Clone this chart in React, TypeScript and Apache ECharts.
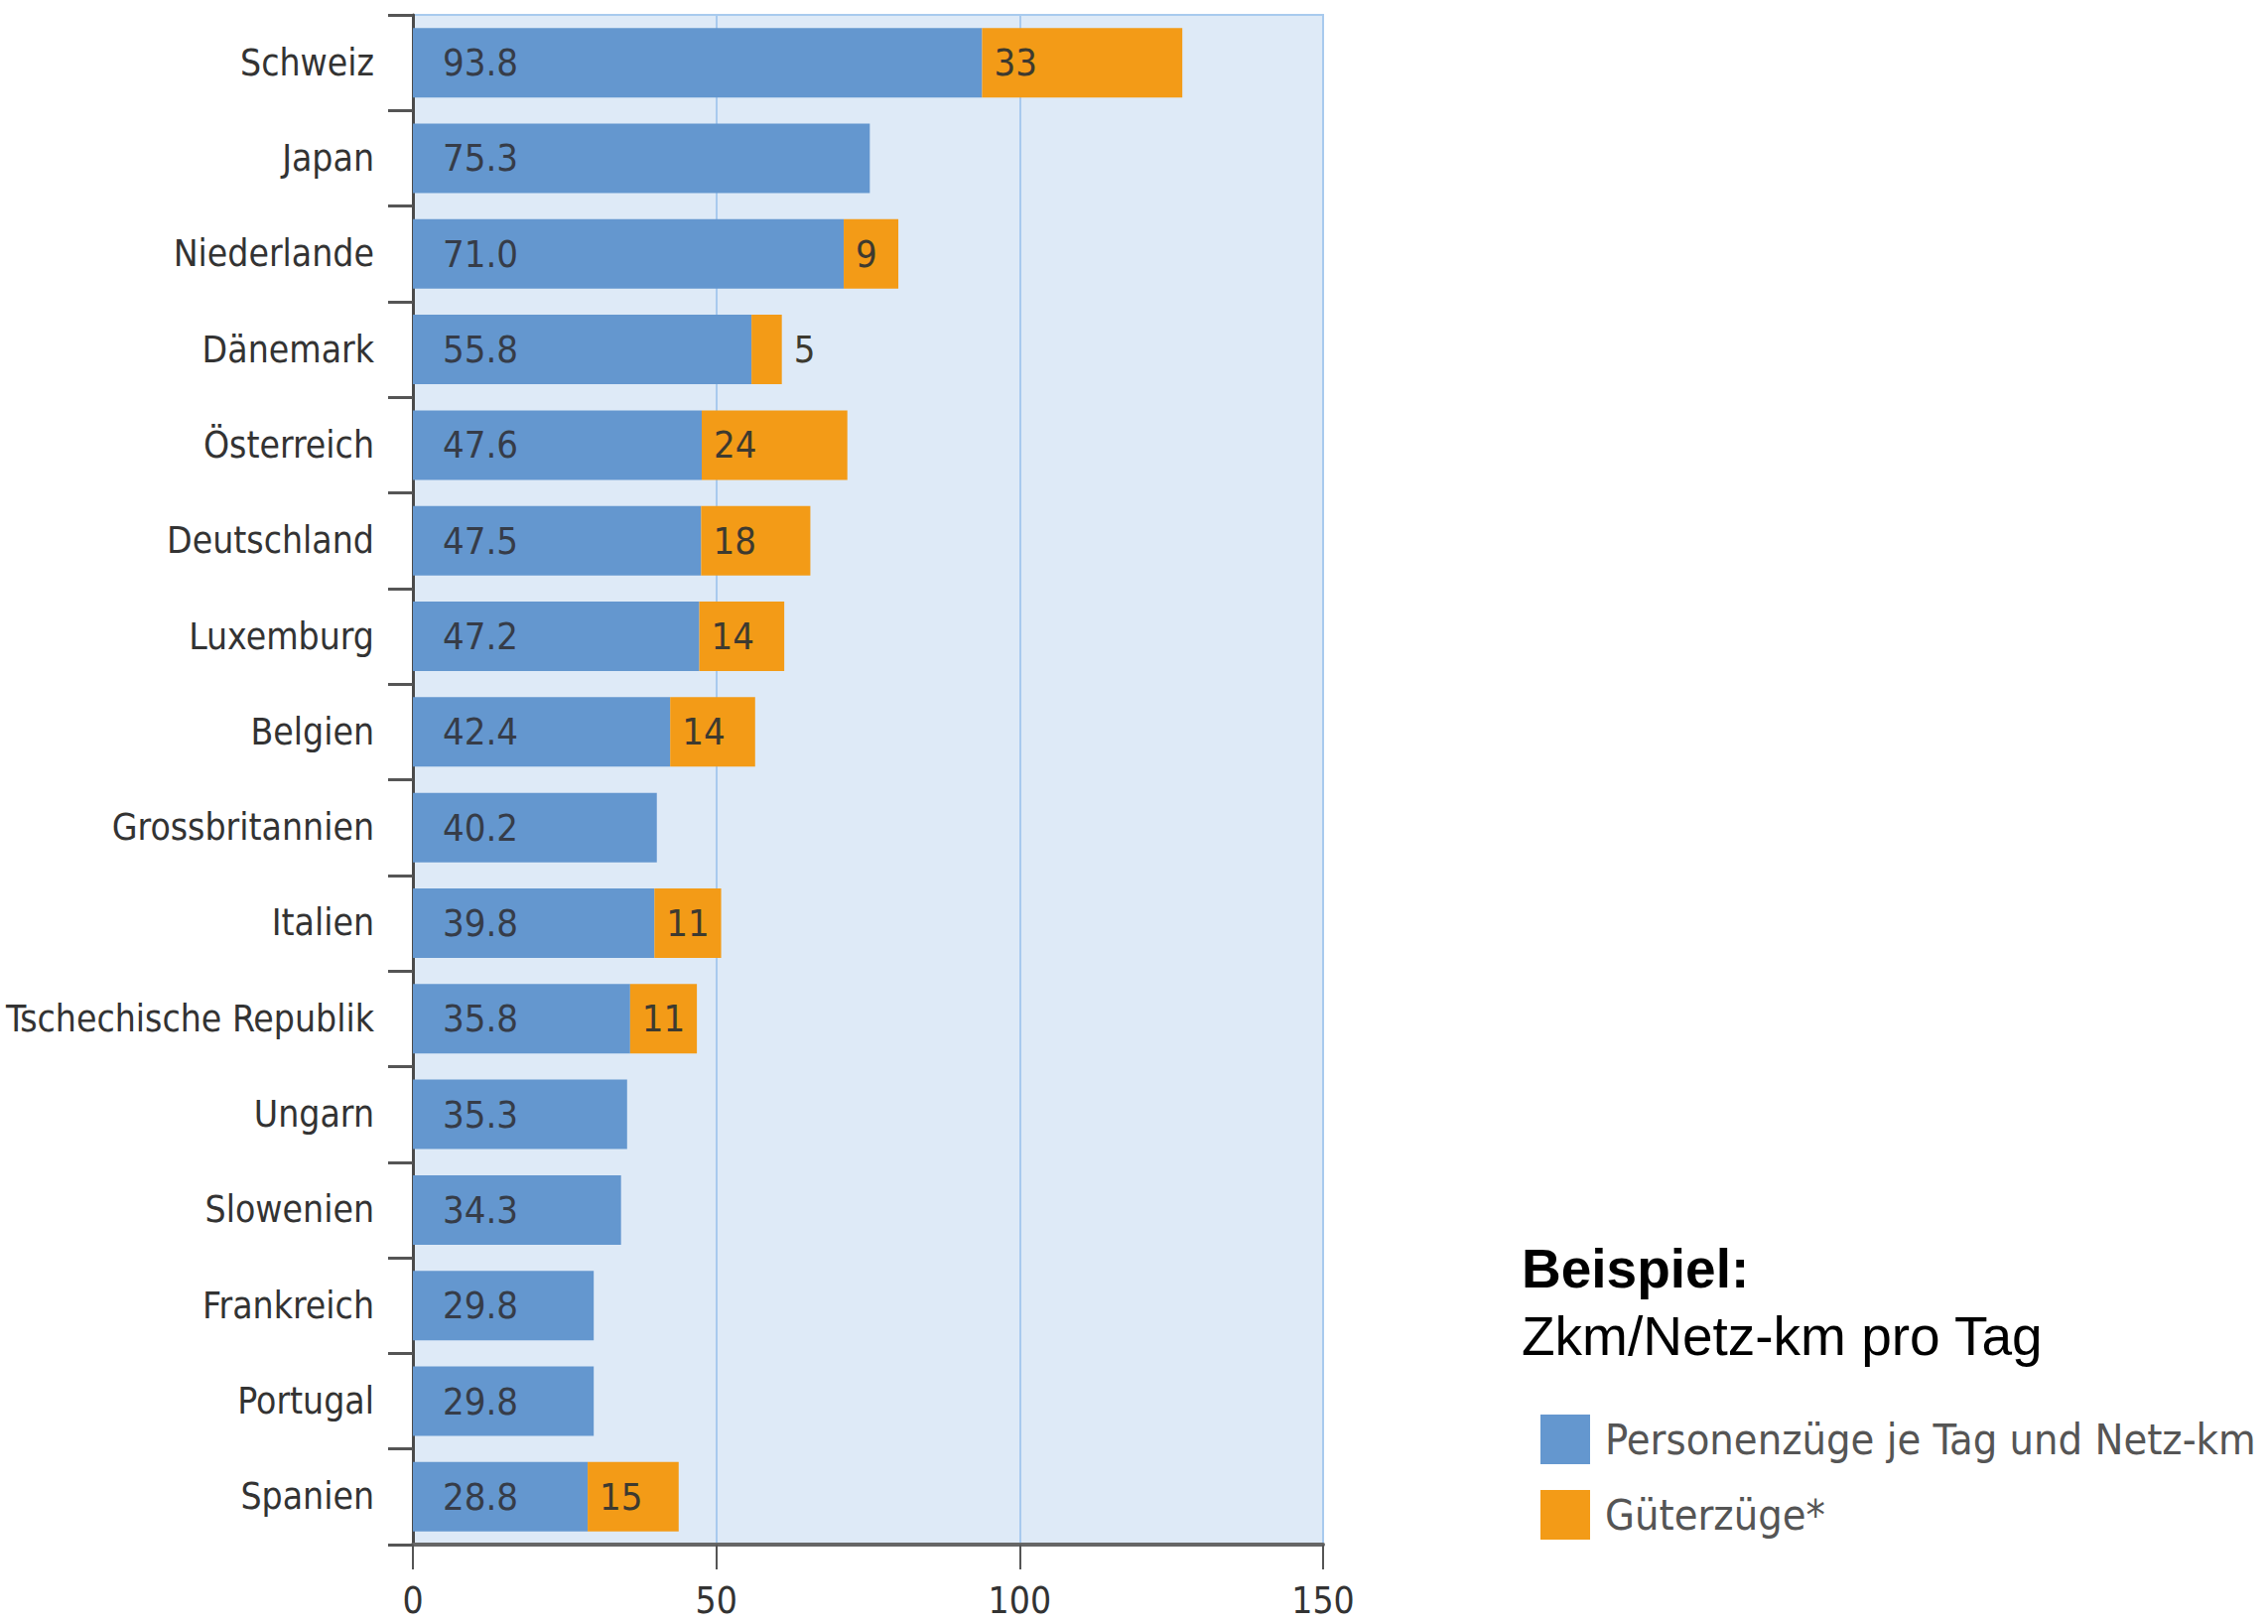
import React, { useEffect, useRef } from "react";
import * as echarts from "echarts";

const categories = [
  "Schweiz", "Japan", "Niederlande", "Dänemark", "Österreich", "Deutschland",
  "Luxemburg", "Belgien", "Grossbritannien", "Italien", "Tschechische Republik",
  "Ungarn", "Slowenien", "Frankreich", "Portugal", "Spanien",
];
const passengerValues = [93.8, 75.3, 71.0, 55.8, 47.6, 47.5, 47.2, 42.4, 40.2, 39.8, 35.8, 35.3, 34.3, 29.8, 29.8, 28.8];
const freightValues: (number | null)[] = [33, null, 9, 5, 24, 18, 14, 14, null, 11, 11, null, null, null, null, 15];
const xTicks = [0, 50, 100, 150];
const seriesNames = ["Personenzüge je Tag und Netz-km", "Güterzüge*"];
const titleLine1 = "Beispiel:";
const titleLine2 = "Zkm/Netz-km pro Tag";
const outsideLabelCategories = ["Dänemark"];

const NARROW = "'Liberation Sans Narrow', 'Arial Narrow', 'DejaVu Sans Condensed', sans-serif";
const BLUE = "#6497cf";
const ORANGE = "#f39b17";

export default function App() {
  const ref = useRef<HTMLDivElement>(null);
  useEffect(() => {
    if (!ref.current) return;
    const chart = echarts.init(ref.current, null, { renderer: "svg" });
    const freightData = freightValues.map((v, i) => {
      if (v == null) return null;
      if (outsideLabelCategories.includes(categories[i])) {
        return { value: v, label: { position: "right", distance: 12 } };
      }
      return v;
    });
    chart.setOption({
      animation: false,
      backgroundColor: "#ffffff",
      grid: {
        left: 416,
        top: 15,
        width: 917,
        height: 1541,
        containLabel: false,
        outerBoundsMode: "none",
        show: true,
        backgroundColor: "#deeaf7",
        borderColor: "#a8caee",
        borderWidth: 2,
      },
      legend: {
        orient: "vertical",
        left: 1547,
        top: 1418,
        itemWidth: 50,
        itemHeight: 50,
        itemGap: 22,
        icon: "rect",
        textStyle: {
          fontFamily: NARROW,
          fontSize: 43,
          color: "#555555",
          lineHeight: 54,
          padding: [0, 0, 0, 10],
        },
        data: seriesNames,
      },
      xAxis: {
        type: "value",
        min: xTicks[0],
        max: xTicks[xTicks.length - 1],
        interval: 50,
        axisLine: { show: true, lineStyle: { color: "#666666", width: 4 } },
        axisTick: { show: true, length: 25, lineStyle: { color: "#555555", width: 2 } },
        axisLabel: {
          margin: 38,
          fontFamily: NARROW,
          fontSize: 37,
          color: "#333333",
        },
        splitLine: { show: true, lineStyle: { color: "#a8caee", width: 2 } },
      },
      yAxis: {
        type: "category",
        inverse: true,
        data: categories,
        axisLine: { show: true, lineStyle: { color: "#4a4a4a", width: 3 } },
        axisTick: { show: true, length: 25, alignWithLabel: false, lineStyle: { color: "#555555", width: 3 } },
        axisLabel: {
          margin: 39,
          fontFamily: NARROW,
          fontSize: 37,
          color: "#333333",
        },
        splitLine: { show: false },
      },
      series: [
        {
          name: seriesNames[0],
          type: "bar",
          stack: "total",
          barWidth: 70,
          itemStyle: { color: BLUE },
          label: {
            show: true,
            position: "insideLeft",
            distance: 30,
            fontFamily: NARROW,
            fontSize: 38,
            color: "#363c48",
            formatter: (p: any) => Number(p.value).toFixed(1),
          },
          data: passengerValues,
        },
        {
          name: seriesNames[1],
          type: "bar",
          stack: "total",
          barWidth: 70,
          itemStyle: { color: ORANGE },
          label: {
            show: true,
            position: "insideLeft",
            distance: 12,
            fontFamily: NARROW,
            fontSize: 38,
            color: "#3d3a30",
            formatter: (p: any) => String(p.value),
          },
          data: freightData,
        },
      ],
      graphic: [
        {
          type: "text",
          left: 1533,
          top: 1250,
          style: {
            text: titleLine1,
            fontFamily: "'Liberation Sans', Arial, sans-serif",
            fontWeight: "bold",
            fontSize: 55,
            fill: "#000000",
          },
        },
        {
          type: "text",
          left: 1533,
          top: 1318,
          style: {
            text: titleLine2,
            fontFamily: "'Liberation Sans', Arial, sans-serif",
            fontSize: 55,
            fill: "#000000",
          },
        },
      ],
    });
    return () => chart.dispose();
  }, []);
  return (
    <div
      ref={ref}
      style={{ position: "fixed", left: 0, top: 0, width: 2285, height: 1636, background: "#fff" }}
    />
  );
}
